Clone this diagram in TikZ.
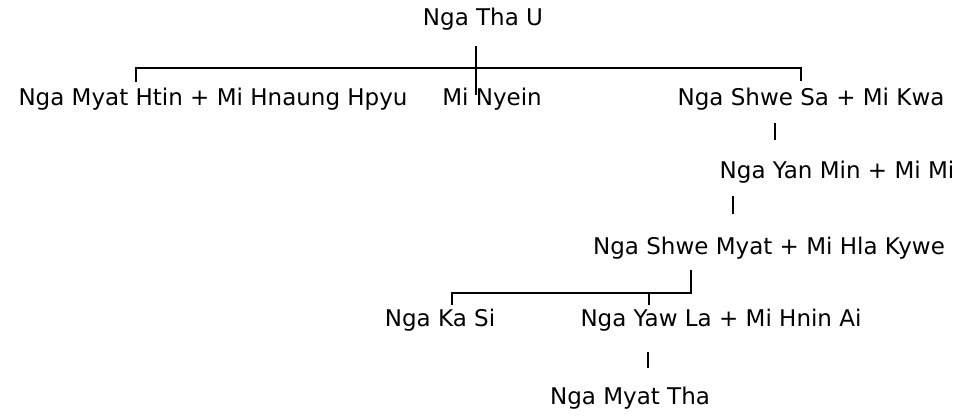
\documentclass[tikz,border=0pt]{standalone}
\usepackage{fontspec}
\setmainfont{DejaVu Sans}
\usepackage{tikz}
\usetikzlibrary{positioning}
\tikzstyle{person}=[inner sep=0pt,anchor=base,text height=17pt,text depth=5pt]

\begin{document}
\begin{tikzpicture}[x=1pt,y=-1pt,line width=1.8pt,font=\fontsize{23}{27}\selectfont]
    \useasboundingbox (0,0) rectangle (965,416);
    % the family, one line per generation
    \node[person] (tha) at (483,25) {Nga Tha U};
    \node[person] (htin) at (213,105) {Nga Myat Htin + Mi Hnaung Hpyu};
    \node[person] (nyein) at (492,105) {Mi Nyein};
    \node[person] (shwesa) at (811,105) {Nga Shwe Sa + Mi Kwa};
    \node[person] (yanmin) at (837,178) {Nga Yan Min + Mi Mi};
    \node[person] (shwemyat) at (769,254) {Nga Shwe Myat + Mi Hla Kywe};
    \node[person] (kasi) at (440,326) {Nga Ka Si};
    \node[person] (yawla) at (721,326) {Nga Yaw La + Mi Hnin Ai};
    \node[person] (myattha) at (630,404) {Nga Myat Tha};
    % corners of the two bars, and the single drops
    \coordinate (topleft) at (136,68);
    \coordinate (topmid) at (476,68);
    \coordinate (topright) at (801,68);
    \coordinate (botleft) at (452,293);
    \coordinate (botmid) at (649,293);
    \coordinate (botright) at (691,293);
    \coordinate (sa) at (775,0);
    \coordinate (yan) at (733,0);
    \coordinate (yaw) at (648,0);
    % top bar
    \draw ([yshift=-15pt]tha.south -| topmid) -- ([yshift=-27pt]topmid);
    \draw ([yshift=5pt]htin.north -| topleft) -- (topleft) -- (topright)
        -- ([yshift=6pt]shwesa.north -| topright);
    % straight line of descent
    \draw[shorten <=12pt,shorten >=20pt] (shwesa.south -| sa) -- (yanmin.north -| sa);
    \draw[shorten <=12pt,shorten >=22pt] (yanmin.south -| yan) -- (shwemyat.north -| yan);
    % bottom bar
    \draw ([yshift=-10pt]shwemyat.south -| botright) -- (botright) -- (botleft)
        -- ([yshift=3pt]kasi.north -| botleft);
    \draw (botmid) -- ([yshift=3pt]yawla.north -| botmid);
    \draw[shorten <=20pt,shorten >=18pt] (yawla.south -| yaw) -- (myattha.north -| yaw);
\end{tikzpicture}
\end{document}
